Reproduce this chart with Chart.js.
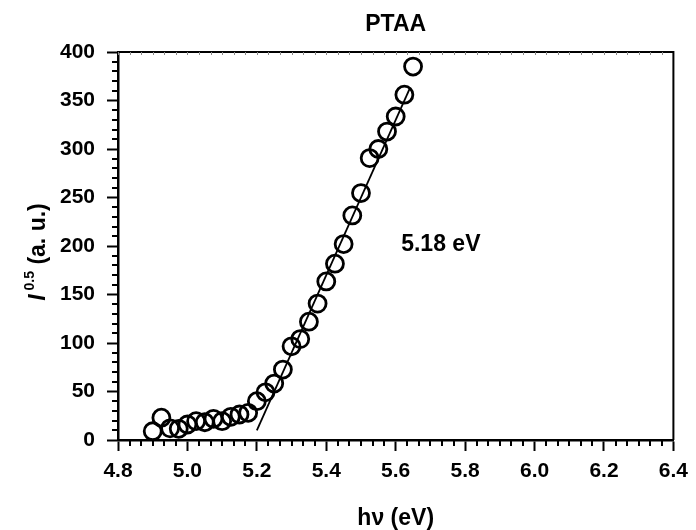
<!DOCTYPE html>
<html>
<head>
    <title>PTAA</title>
    <script src="https://cdn.jsdelivr.net/npm/chart.js@4"></script>
    <style>
        body { margin: 0; background: #fff; }
    </style>
</head>
<body>
    <canvas id="ptaaChart" width="696" height="530"></canvas>
    <script>
        // photon energy (eV) and square root of photoemission yield
        var hv = [4.900, 4.925, 4.950, 4.975, 5.000, 5.025, 5.050, 5.075, 5.100, 5.125,
                  5.150, 5.175, 5.200, 5.225, 5.250, 5.275, 5.300, 5.325, 5.350, 5.375,
                  5.400, 5.425, 5.450, 5.475, 5.500, 5.525, 5.550, 5.575, 5.600, 5.625, 5.650];
        var raizI = [9, 23, 12, 11.5, 16, 19.4, 18.3, 21.8, 19.4, 23.9,
                     26.3, 28, 40, 49.2, 58.2, 72.6, 96.6, 104, 122, 140.6,
                     163.5, 181.8, 202, 231.5, 254.6, 290.6, 300, 318, 333.5, 356, 385];

        // linear fit of the rising edge
        var ajusteX = [5.20, 5.64];
        var ajusteY = [10, 362];

        var umbral = "5.18 eV";
        var umbralPos = [5.73, 203];

        var xTicks = [4.8, 5.0, 5.2, 5.4, 5.6, 5.8, 6.0, 6.2, 6.4];
        var yTicks = [0, 50, 100, 150, 200, 250, 300, 350, 400];

        var fuente = "'Liberation Sans', Arial, sans-serif";

        // frame, minor ticks, titles and the onset label
        var decoracion = {
            id: 'decoracion',
            afterDraw: function (chart) {
                var ctx = chart.ctx;
                var a = chart.chartArea;
                var sx = chart.scales.x;
                var sy = chart.scales.y;
                ctx.save();

                // top and right border
                ctx.strokeStyle = '#000';
                ctx.lineWidth = 2;
                ctx.beginPath();
                ctx.moveTo(a.left, a.top);
                ctx.lineTo(a.right, a.top);
                ctx.lineTo(a.right, a.bottom);
                ctx.stroke();

                // minor ticks
                ctx.lineWidth = 2;
                ctx.beginPath();
                for (var i = 0; i < xTicks.length - 1; i++) {
                    for (var k = 1; k < 6; k++) {
                        var v = xTicks[i] + (xTicks[i + 1] - xTicks[i]) * k / 6;
                        var px = Math.round(sx.getPixelForValue(v));
                        ctx.moveTo(px, a.bottom);
                        ctx.lineTo(px, a.bottom + 6);
                    }
                }
                for (var j = 0; j < yTicks.length - 1; j++) {
                    for (var m = 1; m < 5; m++) {
                        var w = yTicks[j] + (yTicks[j + 1] - yTicks[j]) * m / 5;
                        var py = Math.round(sy.getPixelForValue(w));
                        ctx.moveTo(a.left, py);
                        ctx.lineTo(a.left - 6, py);
                    }
                }
                ctx.stroke();

                // faint ticks along the top border
                ctx.strokeStyle = '#888';
                ctx.lineWidth = 1;
                ctx.beginPath();
                for (var t = 0; t < xTicks.length - 1; t++) {
                    for (var n = 0; n < 6; n++) {
                        var vt = xTicks[t] + (xTicks[t + 1] - xTicks[t]) * n / 6;
                        var pt = Math.round(sx.getPixelForValue(vt)) + 0.5;
                        ctx.moveTo(pt, a.top);
                        ctx.lineTo(pt, a.top + 3);
                    }
                }
                ctx.stroke();

                ctx.fillStyle = '#000';
                var cx = (a.left + a.right) / 2;

                // title
                ctx.font = "bold 23px " + fuente;
                ctx.textAlign = 'center';
                ctx.textBaseline = 'alphabetic';
                ctx.fillText('PTAA', cx, 31);

                // x axis title
                ctx.fillText('h\u03bd (eV)', cx, 525);

                // onset label
                ctx.fillText(umbral, sx.getPixelForValue(umbralPos[0]), sy.getPixelForValue(umbralPos[1]) + 8);

                // y axis title: I^0.5 (a. u.)
                ctx.translate(45, (a.top + a.bottom) / 2 + 6);
                ctx.rotate(-Math.PI / 2);
                var partes = [
                    { txt: 'I', font: "italic bold 23px " + fuente, dy: 0 },
                    { txt: ' 0.5', font: "bold 14px " + fuente, dy: -11 },
                    { txt: ' (a. u.)', font: "bold 23px " + fuente, dy: 0 }
                ];
                var total = 0;
                partes.forEach(function (p) { ctx.font = p.font; total += ctx.measureText(p.txt).width; });
                var x0 = -total / 2;
                ctx.textAlign = 'left';
                partes.forEach(function (p) {
                    ctx.font = p.font;
                    ctx.fillText(p.txt, x0, p.dy);
                    x0 += ctx.measureText(p.txt).width;
                });
                ctx.restore();
            }
        };

        var puntos = hv.map(function (x, i) { return { x: x, y: raizI[i] }; });
        var recta = ajusteX.map(function (x, i) { return { x: x, y: ajusteY[i] }; });

        new Chart(document.getElementById('ptaaChart').getContext('2d'), {
            type: 'scatter',
            data: {
                datasets: [{
                    data: puntos,
                    pointStyle: 'circle',
                    pointRadius: 8.5,
                    pointBorderWidth: 2.8,
                    borderColor: '#000',
                    backgroundColor: 'rgba(0,0,0,0)'
                }, {
                    type: 'line',
                    data: recta,
                    borderColor: '#000',
                    borderWidth: 1.8,
                    pointRadius: 0,
                    fill: false
                }]
            },
            options: {
                responsive: false,
                animation: false,
                layout: { padding: { top: 52, right: 18, left: 0, bottom: 0 } },
                plugins: { legend: { display: false }, tooltip: { enabled: false } },
                scales: {
                    x: {
                        type: 'linear',
                        min: 4.8, max: 6.4,
                        afterFit: function (s) { s.height = 90; },
                        afterBuildTicks: function (s) { s.ticks = xTicks.map(function (v) { return { value: v }; }); },
                        ticks: {
                            color: '#000',
                            padding: 8,
                            font: { family: fuente, size: 21, weight: 'bold' },
                            callback: function (v) { return Number(v).toFixed(1); },
                            maxRotation: 0
                        },
                        grid: { drawOnChartArea: false, tickLength: 11, tickWidth: 2, tickColor: '#000' },
                        border: { display: true, color: '#000', width: 2.5 }
                    },
                    y: {
                        min: 0, max: 400,
                        afterFit: function (s) { s.width = 118; },
                        afterBuildTicks: function (s) { s.ticks = yTicks.map(function (v) { return { value: v }; }); },
                        ticks: {
                            color: '#000',
                            padding: 12,
                            font: { family: fuente, size: 21, weight: 'bold' }
                        },
                        grid: { drawOnChartArea: false, tickLength: 11, tickWidth: 2, tickColor: '#000' },
                        border: { display: true, color: '#000', width: 2.5 }
                    }
                }
            },
            plugins: [decoracion]
        });
    </script>
</body>
</html>
